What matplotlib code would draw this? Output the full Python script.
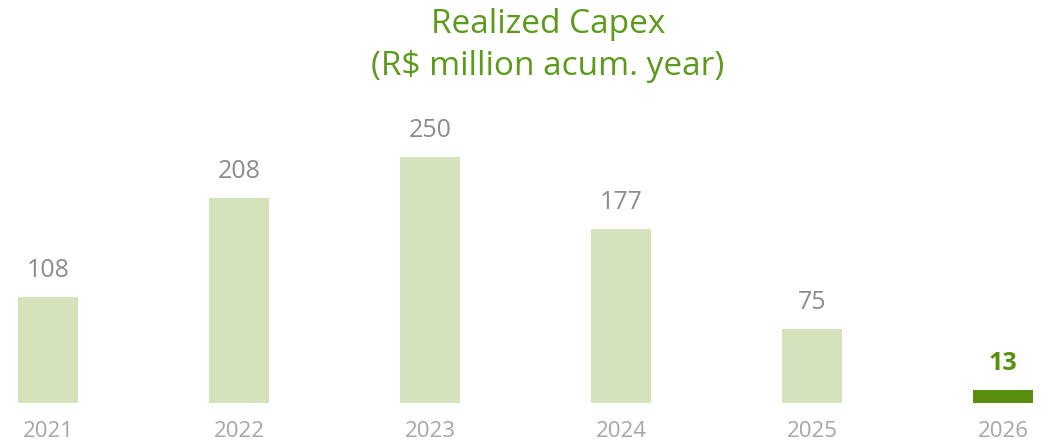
import matplotlib
matplotlib.use("Agg")
import matplotlib.pyplot as plt
import numpy as np

years = ['2021', '2022', '2023', '2024', '2025', '2026']
capex = [108, 208, 250, 177, 75, 13]
highlight = [False, False, False, False, False, True]

light_green = '#d5e3bd'
dark_green = '#5a8f0e'
title_green = '#5b9a1a'

plt.rcParams['font.family'] = ['Open Sans', 'DejaVu Sans']

fig = plt.figure(figsize=(10.61, 4.47), dpi=100)
ax = fig.add_axes([0, 44 / 447, 1, 403 / 447])

x = np.arange(len(years))
colors = [dark_green if h else light_green for h in highlight]
ax.bar(x, capex, width=60 / 191, color=colors)

for xi, v, h in zip(x, capex, highlight):
    ax.annotate(str(v), (xi, v), xytext=(0, 10), textcoords='offset points',
                ha='center', va='bottom', fontsize=18,
                color=dark_green if h else '#8c8c8c',
                fontweight='bold' if h else 'normal')

ax.set_xlim(-48 / 191, (1061 - 48) / 191)
ax.set_ylim(0, 403 / 0.984)
ax.set_xticks(x)
ax.set_xticklabels(years, fontsize=16, color='#a6a6a6')
ax.tick_params(axis='x', length=0, pad=13)
ax.set_yticks([])
for s in ax.spines.values():
    s.set_visible(False)

fig.text(548 / 1061, 1 - 33 / 447, 'Realized Capex', ha='center', va='baseline',
         fontsize=24, color=title_green)
fig.text(548 / 1061, 1 - 75 / 447, '(R$ million acum. year)', ha='center', va='baseline',
         fontsize=24, color=title_green)

fig.savefig('out.png', dpi=100)
